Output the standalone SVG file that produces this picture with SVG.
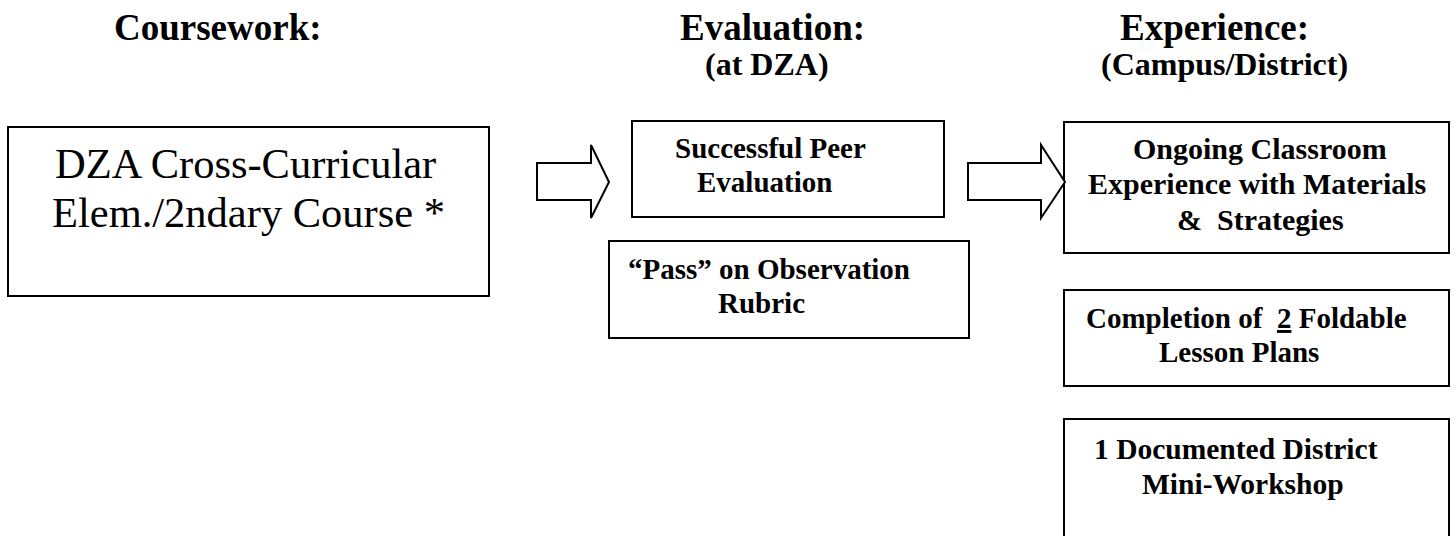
<svg xmlns="http://www.w3.org/2000/svg" width="1455" height="536" viewBox="0 0 1455 536">
<defs>
<style>
.box{fill:#fff;stroke:#000;stroke-width:2}
.arrow{fill:#fff;stroke:#000;stroke-width:2;stroke-linejoin:miter}
</style>
</defs>
<rect width="1455" height="536" fill="#fff"/>
<g id="headings" font-family="Liberation Serif" font-weight="bold" fill="#000">
<text x="114" y="40" font-size="37">Coursework:</text>
<text x="680" y="40" font-size="37">Evaluation:</text>
<text x="705" y="75" font-size="32">(at DZA)</text>
<text x="1120" y="40" font-size="37">Experience:</text>
<text x="1101" y="75" font-size="32">(Campus/District)</text>
</g>
<g id="course" font-family="Liberation Serif" font-size="42.5" fill="#000">
<rect class="box" x="8" y="127" width="481" height="169"/>
<text x="55" y="178">DZA Cross-Curricular</text>
<text x="52" y="227">Elem./2ndary Course *</text>
</g>
<g id="peer" font-family="Liberation Serif" font-size="29" font-weight="bold" fill="#000">
<rect class="box" x="632" y="121" width="312" height="96"/>
<text x="675" y="158">Successful Peer</text>
<text x="697" y="192">Evaluation</text>
</g>
<g id="pass" font-family="Liberation Serif" font-size="29" font-weight="bold" fill="#000">
<rect class="box" x="609" y="241" width="360" height="97"/>
<text x="628" y="279">“Pass” on Observation</text>
<text x="718" y="313">Rubric</text>
</g>
<g id="ongoing" font-family="Liberation Serif" font-size="30" font-weight="bold" fill="#000">
<rect class="box" x="1064" y="122" width="385" height="131"/>
<text x="1133" y="159">Ongoing Classroom</text>
<text x="1088" y="194">Experience with Materials</text>
<text x="1177" y="230" xml:space="preserve">&amp;  Strategies</text>
</g>
<g id="lesson" font-family="Liberation Serif" font-size="29" font-weight="bold" fill="#000">
<rect class="box" x="1064" y="290" width="385" height="96"/>
<text x="1086" y="328" xml:space="preserve">Completion of  <tspan text-decoration="underline">2</tspan> Foldable</text>
<text x="1159" y="362">Lesson Plans</text>
</g>
<g id="workshop" font-family="Liberation Serif" font-size="29.5" font-weight="bold" fill="#000">
<rect class="box" x="1064" y="419" width="385" height="130"/>
<text x="1094" y="459">1 Documented District</text>
<text x="1142" y="494">Mini-Workshop</text>
</g>
<g id="connectors">
<path class="arrow" d="M537,163 L591,163 L591,145 L609,182 L591,218 L591,200 L537,200 Z"/>
<path class="arrow" d="M968,163 L1041,163 L1041,145 L1065,182 L1041,218 L1041,200 L968,200 Z"/>
</g>
</svg>
